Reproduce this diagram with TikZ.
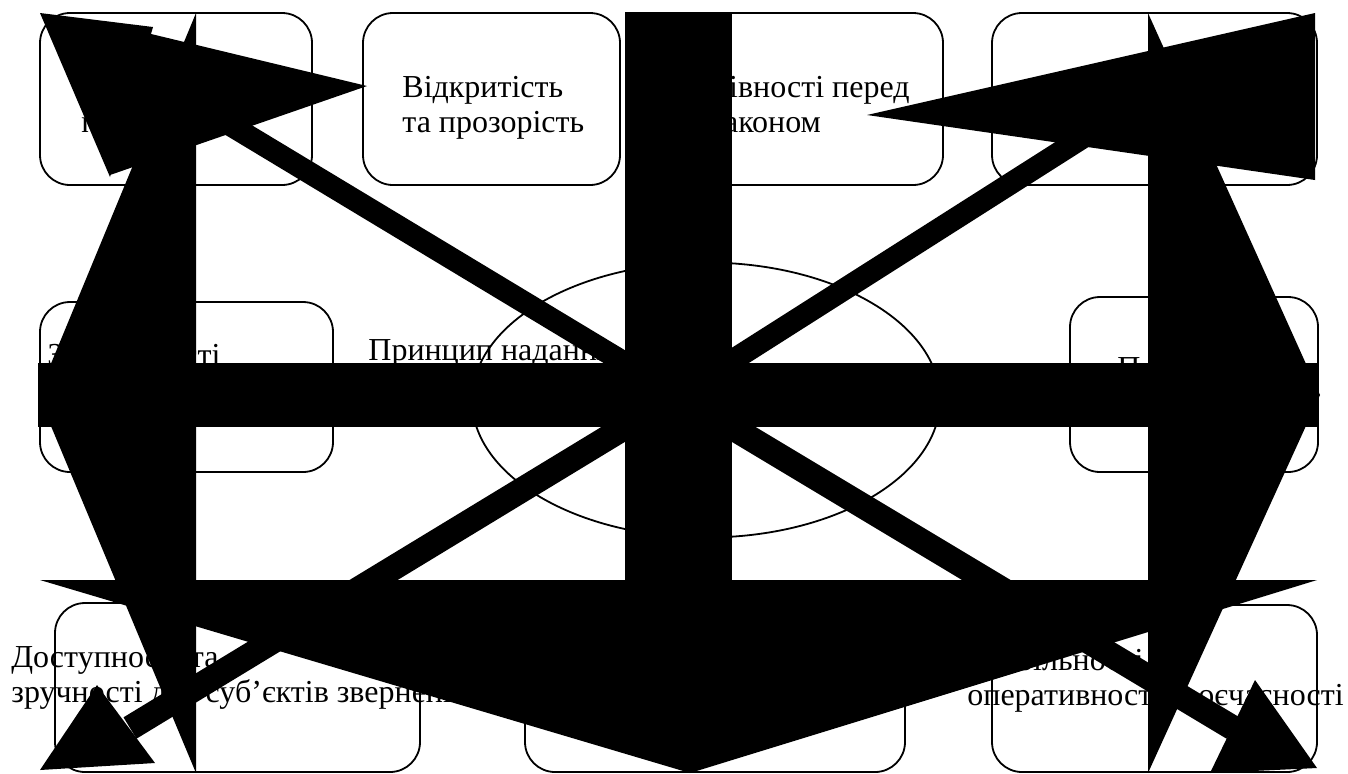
\documentclass[tikz,border=0pt]{standalone}
\usepackage{fontspec}
\setmainfont{Liberation Serif}
\usetikzlibrary{shapes.geometric}

\begin{document}
\begin{tikzpicture}[
  x=0.5pt, y=-0.5pt,
  box/.style={draw,line width=0.9pt,rounded corners=15pt,inner sep=0pt,minimum height=86pt},
  hubshape/.style={draw,ellipse,line width=0.9pt,inner sep=0pt,minimum width=234pt,minimum height=137.5pt},
  txt/.style={anchor=base west,align=left,inner sep=0pt,font=\fontsize{16}{17.5}\selectfont},
  ink/.style={fill=black},
  shaft/.style={draw=black,line width=11pt},
  wideshaft/.style={draw=black,line width=12.5pt}
]
  \useasboundingbox (0,0) rectangle (1348,773);

  \node[box,minimum width=136pt] (rule) at (176,99) {};
  \node[box,minimum width=128.5pt] (open) at (491.5,99) {};
  \node[box,minimum width=136.5pt] (equal) at (806.5,99) {};
  \node[box,minimum width=162.5pt] (fair) at (1154.5,99) {};
  \node[box,minimum width=146.5pt,minimum height=85pt] (data) at (186.5,387) {};
  \node[box,minimum width=124pt,minimum height=87.5pt] (legal) at (1194,384.5) {};
  \node[box,minimum width=182.5pt,minimum height=84.5pt] (access) at (237.5,687.5) {};
  \node[box,minimum width=190pt,minimum height=84.5pt] (info) at (715,687.5) {};
  \node[box,minimum width=162.5pt,minimum height=83.5pt] (speed) at (1154.5,688.5) {};
  \node[hubshape] (core) at (706,400) {};

  \node[txt] (ruletext) at (81,132) {Верховенства\\права};
  \node[txt] (opentext) at (402,132) {Відкритість\\та прозорість};
  \node[txt] (equaltext) at (711,132) {Рівності перед\\законом};
  \node[txt] (datatext) at (47,400) {Захищеності\\персональних даних};
  \node[txt] (coretext) at (368,395) {Принцип надання\\адміністративних послуг};
  \node[txt] (legaltext) at (1117,378) {Прозорості};
  \node[txt] (accesstext) at (11,702) {Доступності та\\зручності для суб’єктів звернень};
  \node[txt] (speedtext) at (967,705) {Стабільності\\оперативності своєчасності};

  \coordinate (hub) at (678,395);
  \coordinate (nw) at (207,111);
  \coordinate (ne) at (1090,133);
  \coordinate (sw) at (130,728);
  \coordinate (se) at (1233,728);

  \fill[ink] (625,12) rectangle (732,580);
  \fill[ink] (38,363) rectangle (1318,427);
  \fill[ink] (40,580) -- (1317,580) -- (690,773) -- cycle;
  \fill[ink] (196,13) -- (38,395) -- (196,773) -- cycle;
  \fill[ink] (1148,13) -- (1320,395) -- (1148,773) -- cycle;
  \fill[ink] (40,13) -- (153,27) -- (110,177) -- cycle;
  \fill[ink] (147,33) -- (367,86) -- (110,175) -- cycle;
  \fill[ink] (867,115) -- (1315,13) -- (1315,180) -- cycle;
  \fill[ink] (40,770) -- (97,685) -- (155,763) -- cycle;
  \fill[ink] (1317,768) -- (1255,680) -- (1210,773) -- cycle;
  \draw[shaft] (hub) -- (nw);
  \draw[shaft] (hub) -- (ne);
  \draw[wideshaft] (hub) -- (sw);
  \draw[wideshaft] (hub) -- (se);
\end{tikzpicture}
\end{document}
